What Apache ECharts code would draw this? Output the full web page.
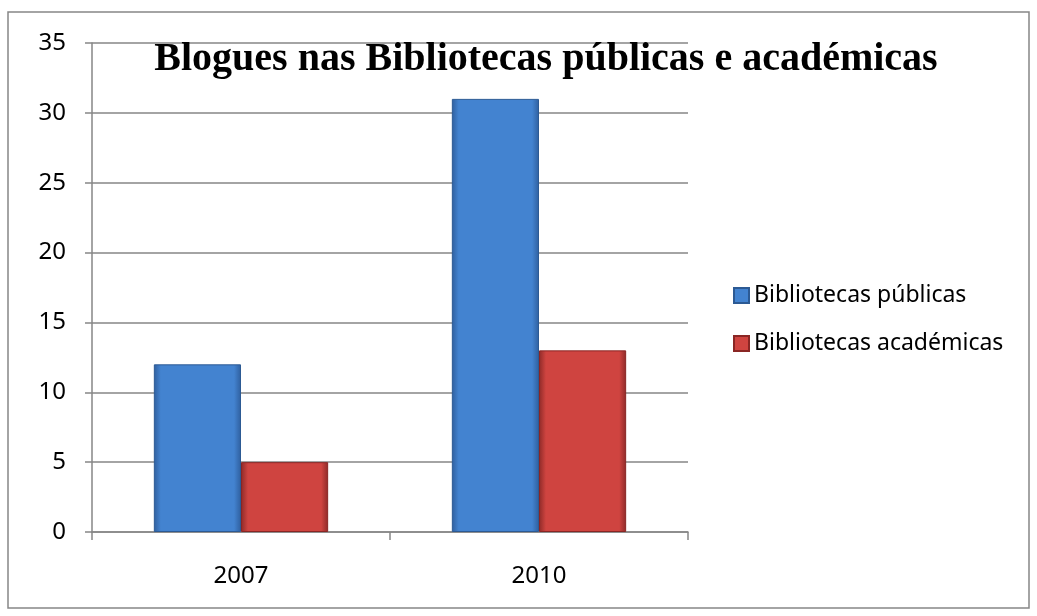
<!DOCTYPE html>
<html>
<head>
<meta charset="utf-8">
<script src="https://cdn.jsdelivr.net/npm/echarts@6/dist/echarts.min.js"></script>
<style>
  html, body { margin: 0; padding: 0; background: #fff; }
  #chart { width: 1037px; height: 616px; }
</style>
</head>
<body>
<div id="chart"></div>
<script>
  const years = ['2007', '2010'];
  const publicas = [12, 31];
  const academicas = [5, 13];
  const yTicks = { min: 0, max: 35, step: 5 };

  // Excel-like bevel look: darker edges, lighter middle
  function bevel(edge, mid) {
    return new echarts.graphic.LinearGradient(0, 0, 1, 0, [
      { offset: 0, color: edge },
      { offset: 0.08, color: mid },
      { offset: 0.92, color: mid },
      { offset: 1, color: edge }
    ]);
  }

  const chart = echarts.init(document.getElementById('chart'));
  chart.setOption({
    animation: false,
    title: {
      text: 'Blogues nas Bibliotecas públicas e académicas',
      left: 541,
      textAlign: 'center',
      top: 35,
      textStyle: {
        fontFamily: 'Liberation Serif',
        fontWeight: 'bold',
        fontSize: 40,
        color: '#000'
      }
    },
    legend: {
      orient: 'vertical',
      left: 728,
      top: 279,
      itemWidth: 15,
      itemHeight: 15,
      itemGap: 25,
      icon: 'rect',
      textStyle: { fontFamily: 'Noto Sans', fontSize: 23, color: '#000' },
      data: ['Bibliotecas públicas', 'Bibliotecas académicas']
    },
    grid: { left: 92, right: 349, top: 43, bottom: 84 },
    xAxis: {
      type: 'category',
      data: years,
      axisLine: { lineStyle: { color: '#868686', width: 1.5 } },
      axisTick: { show: true, length: 8, lineStyle: { color: '#868686', width: 1.5 } },
      axisLabel: { margin: 32, fontFamily: 'Noto Sans', fontSize: 24, color: '#000' }
    },
    yAxis: {
      type: 'value',
      min: yTicks.min,
      max: yTicks.max,
      interval: yTicks.step,
      axisLine: { show: true, lineStyle: { color: '#868686', width: 1.5 } },
      axisTick: { show: true, length: 7, lineStyle: { color: '#868686', width: 1.5 } },
      splitLine: { lineStyle: { color: '#868686', width: 1.5 } },
      axisLabel: { margin: 26, fontFamily: 'Noto Sans', fontSize: 24, color: '#000' }
    },
    series: [
      {
        name: 'Bibliotecas públicas',
        type: 'bar',
        data: publicas,
        barGap: '0%',
        barCategoryGap: '41.5%',
        color: '#4383d0',
        itemStyle: { color: bevel('#2f5f9e', '#4383d0'), borderColor: '#2c5a94', borderWidth: 1 }
      },
      {
        name: 'Bibliotecas académicas',
        type: 'bar',
        data: academicas,
        color: '#cf4440',
        itemStyle: { color: bevel('#8e2a28', '#cf4440'), borderColor: '#8a2624', borderWidth: 1 }
      }
    ],
    graphic: [
      {
        type: 'rect',
        shape: { x: 8, y: 12, width: 1021, height: 596 },
        style: { fill: 'none', stroke: '#868686', lineWidth: 1.5 },
        z: -1
      }
    ]
  });
</script>
</body>
</html>
